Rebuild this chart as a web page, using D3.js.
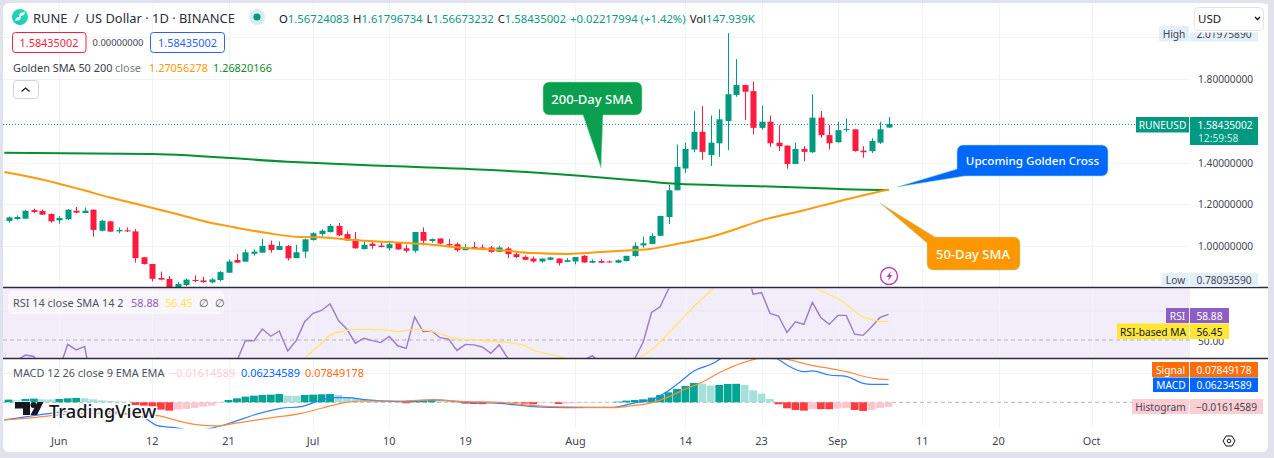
<!DOCTYPE html>
<html><head><meta charset="utf-8">
<style>
html,body{margin:0;padding:0;background:#e0e3eb;overflow:hidden}
svg{display:block}
text{font-family:"Noto Sans",sans-serif;font-size:11px;fill:#131722}
</style>
<script src="https://cdn.jsdelivr.net/npm/d3@7/dist/d3.min.js"></script>
</head><body>
<svg id="c" width="1274" height="458"></svg>
<script>
// ---- data ----
const opens=[1.120,1.129,1.131,1.172,1.168,1.153,1.123,1.128,1.169,1.158,1.174,1.073,1.118,1.070,1.075,1.070,0.946,0.914,0.847,0.842,0.802,0.813,0.837,0.835,0.826,0.837,0.872,0.933,0.925,0.963,0.968,1.006,0.981,1.000,0.942,0.973,1.029,1.057,1.067,1.096,1.057,1.032,0.985,1.011,1.002,0.989,1.016,0.989,0.977,1.067,1.024,1.036,1.009,1.009,0.980,0.995,0.993,0.993,0.972,0.988,0.961,0.948,0.940,0.926,0.934,0.940,0.924,0.926,0.953,0.920,0.928,0.926,0.920,0.928,0.952,1.003,1.010,1.049,1.139,1.267,1.371,1.462,1.547,1.436,1.492,1.599,1.723,1.771,1.742,1.566,1.595,1.495,1.481,1.393,1.465,1.449,1.615,1.531,1.497,1.556,1.559,1.457,1.454,1.495,1.56724];
const highs=[1.141,1.147,1.172,1.179,1.174,1.156,1.144,1.177,1.187,1.185,1.174,1.126,1.121,1.089,1.089,1.081,0.946,0.914,0.877,0.856,0.829,0.845,0.859,0.853,0.846,0.880,0.936,0.962,0.984,0.984,1.035,1.026,1.022,1.005,1.005,1.035,1.065,1.080,1.105,1.110,1.070,1.067,1.025,1.024,1.016,1.019,1.019,1.006,1.067,1.089,1.036,1.036,1.033,1.017,1.009,1.019,1.008,1.000,1.001,0.995,0.968,0.955,0.950,0.940,0.948,0.940,0.942,0.947,0.956,0.936,0.936,0.929,0.936,0.953,1.017,1.045,1.061,1.145,1.292,1.486,1.495,1.646,1.670,1.625,1.655,2.01975890,1.895,1.771,1.788,1.673,1.625,1.579,1.481,1.495,1.478,1.727,1.646,1.579,1.595,1.611,1.559,1.478,1.516,1.595,1.61796734];
const lows=[1.112,1.126,1.131,1.157,1.150,1.112,1.107,1.124,1.157,1.157,1.045,1.070,1.067,1.061,1.067,0.920,0.911,0.831,0.835,0.78093590,0.789,0.808,0.827,0.824,0.821,0.829,0.872,0.920,0.925,0.954,0.968,0.968,0.981,0.930,0.942,0.942,1.026,1.045,1.064,1.048,1.024,0.987,0.984,0.987,0.994,0.978,0.981,0.968,0.968,1.003,1.016,1.009,0.993,0.972,0.980,0.985,0.980,0.968,0.972,0.942,0.942,0.932,0.920,0.920,0.932,0.907,0.923,0.912,0.920,0.918,0.918,0.920,0.918,0.926,0.948,0.992,1.010,1.048,1.105,1.267,1.350,1.449,1.414,1.383,1.427,1.459,1.715,1.603,1.535,1.558,1.475,1.455,1.371,1.393,1.406,1.446,1.518,1.462,1.495,1.547,1.452,1.423,1.446,1.489,1.56673232];
const closes=[1.137,1.139,1.169,1.163,1.150,1.118,1.134,1.174,1.160,1.169,1.077,1.121,1.069,1.077,1.070,0.942,0.914,0.843,0.839,0.802,0.819,0.839,0.832,0.827,0.840,0.875,0.926,0.920,0.970,0.973,1.000,0.981,1.000,0.941,0.970,1.032,1.061,1.073,1.096,1.051,1.027,0.989,1.005,1.000,0.995,1.009,0.984,0.977,1.067,1.025,1.033,1.012,1.003,0.980,0.993,0.990,0.987,0.972,0.993,0.961,0.947,0.934,0.926,0.940,0.945,0.918,0.932,0.947,0.921,0.928,0.920,0.923,0.932,0.953,1.001,1.013,1.048,1.144,1.267,1.379,1.465,1.547,1.451,1.495,1.607,1.727,1.771,1.739,1.566,1.595,1.492,1.478,1.393,1.465,1.451,1.615,1.531,1.492,1.555,1.561,1.455,1.449,1.503,1.559,1.58435002];

const sma200Idx=[-0.5,17,33,45,57,67.5,75,79,86.5,94.4,98.3,104];
const sma200=[1.447,1.441,1.404,1.383,1.364,1.337,1.311,1.298,1.289,1.279,1.273,1.26820166];
const sma50Idx=[-0.5,3.8,8.8,12,15.5,19.4,23.5,26.5,30.6,34.5,36.8,40.7,45,49,54,58,62,66,70,74,75.8,79.4,82.5,85.3,89.2,93.9,98.3,104];
const sma50=[1.354,1.320,1.268,1.232,1.198,1.158,1.115,1.091,1.062,1.043,1.042,1.029,1.019,1.010,0.990,0.981,0.966,0.962,0.971,0.981,0.986,1.013,1.038,1.072,1.125,1.170,1.216,1.27056278];

const rsi=[42,43,44.8,44.3,40,36,40,48.5,46.6,47.8,32,37,33,33,33,24,22,19,19,17,21,25,24,24,26,31,37,42.8,49.8,49.7,53.8,51.3,53.1,46.2,49.8,56.3,59.2,60.2,62.5,56.7,53.7,48.9,50.6,49.8,49.1,51.2,48.0,47.1,58.0,52.9,53.1,50.8,50.3,46.4,48.5,48.3,47.6,45.4,48.3,43.7,40,38,37,38,39,37,39,41,43.1,44.6,42,41,41.5,42.5,43.5,49.2,59.5,61.5,67.6,72,74,76,70,71,74,78,80,77,65.8,66.4,59.2,58.3,52.6,56.3,55.4,63,57.8,55.4,58.5,58.5,52,51.6,54.6,57.8,58.88];
const rsiMaIdx=[35,37,38,39.3,41,42.4,44.4,46.2,47.8,49.8,51.4,53.3,55.3,58,60.8,62,65.6,68,71,74.4,76.2,77.8,80.2,83.3,89,95.5,98.3,101,102,103,104];
const rsiMa=[43.9,48.9,51.7,52.9,53.7,53.7,53.5,52.9,53.7,53.2,51.7,50.3,50,49.4,48.3,46.6,43.9,41,40,43.7,47.1,51.7,59.2,67.8,80,67.8,63.8,58,57.1,56.5,56.45];

const hist=[.0093,.0069,.0116,.0127,.0104,.0098,.0116,.0139,.0150,.0139,.0104,.0069,.0046,.0023,.0012,-.0093,-.0116,-.0139,-.0255,-.0289,-.0255,-.0231,-.0197,-.0150,-.0116,-.0023,.0081,.0139,.0197,.0231,.0255,.0266,.0289,.0231,.0220,.0255,.0266,.0278,.0289,.0255,.0185,.0139,.0116,.0093,.0069,.0058,.0035,-.0035,.0058,.0069,.0081,.0035,.0023,.0012,-.0046,-.0058,-.0064,-.0035,-.0023,-.0012,-.0017,-.0046,-.0069,-.0023,-.0012,-.0058,-.0046,-.0035,-.0023,-.0017,-.0012,-.0006,.0023,.0058,.0081,.0104,.0162,.0255,.0347,.0463,.0567,.0671,.0648,.0579,.0602,.0636,.0642,.0602,.0417,.0301,.0116,-.0069,-.0208,-.0266,-.0289,-.0231,-.0237,-.0238,-.0220,-.0197,-.0266,-.0301,-.0266,-.0197,-.01614589];
const macdIdx=[-0.5,5,9,12,15.8,17.6,19.6,22,24.3,26.7,29,32.2,34.6,37,38.5,40,42.4,46.4,50.2,54.1,58,62,66,71.5,73.8,76.2,77.8,79.4,81,83.3,84.1,86,88,90,90.8,92,94,95,97,99,101,102,104];
const macdLine=[-.0613,-.0382,-.0260,-.0320,-.0497,-.0810,-.0879,-.0980,-.0879,-.0671,-.0440,-.0208,-.0150,.0081,.0162,.0162,.0081,.0023,.0081,0,-.0035,-.0150,-.0185,-.0174,-.0035,.0116,.0370,.0717,.1088,.1354,.1504,.1700,.1750,.1650,.1527,.1296,.1064,.1088,.0949,.0902,.0659,.0625,.06234589];
const signalIdx=[-0.5,3,5,9,12,15,17.6,19.6,22,24.7,26.7,30.6,34.6,37,39.3,41.7,46.4,50.2,54.1,58,62,66,71.5,73.8,76.2,77.8,80.2,81.7,84.1,86.9,89,91.6,94.4,99,102.2,104];
const signalLine=[-.0613,-.0532,-.0463,-.0382,-.0382,-.0440,-.0463,-.0613,-.0764,-.0821,-.0729,-.0555,-.0382,-.0208,-.0035,.0046,.0046,.0081,.0023,0,-.0116,-.0162,-.0185,-.0116,0,.0162,.0486,.0659,.1041,.1388,.1527,.1504,.1319,.1064,.0833,.07849178];

const priceTicks=[1.0,1.2,1.4,1.6,1.8,2.0];
const priceLabels=["1.00000000","1.20000000","1.40000000","1.80000000"];
const priceLabelVals=[1.0,1.2,1.4,1.8];
const timeIdx=[6,17,26,36,45,54,67,80,89,98,108,117,128];
const timeLabels=["Jun","12","21","Jul","10","19","Aug","14","23","Sep","11","20","Oct"];

// ---- scales ----
const PW=1190;
const x=d3.scaleLinear().domain([0,104]).range([8.5,888.5]);
const yP=d3.scaleLinear().domain([1.0,1.8]).range([246,79]);
const yR=d3.scaleLinear().domain([50,58.88]).range([340,314.3]);
const yM=d3.scaleLinear().domain([0,0.1]).range([402.3,373.5]);

const svg=d3.select("#c");
const defs=svg.append("defs");
[["clipP",4,288],["clipR",288.5,358],["clipM",359,428.5]].forEach(([id,a,b])=>{
  defs.append("clipPath").attr("id",id).append("rect").attr("x",3).attr("y",a).attr("width",PW-3).attr("height",b-a);
});
const lg=defs.append("linearGradient").attr("id","rg").attr("x1",0).attr("y1",1).attr("x2",1).attr("y2",0);
lg.append("stop").attr("offset",0).attr("stop-color","#0bc5c5");
lg.append("stop").attr("offset",1).attr("stop-color","#33e0a0");

// frame
svg.append("path").attr("fill","#fff")
  .attr("d","M9,3H1262a6,6 0 0 1 6,6V446a6,6 0 0 1 -6,6H9a6,6 0 0 1 -6,-6V9a6,6 0 0 1 6,-6Z");

// RSI pane background
svg.append("rect").attr("x",3).attr("y",288).attr("width",PW-3).attr("height",70).attr("fill","#f3ecf9");

// vertical grid
const grid=svg.append("g").attr("stroke","#f0f3fa").attr("stroke-width",1);
grid.selectAll("line").data(timeIdx).join("line")
  .attr("x1",d=>Math.round(x(d))+.5).attr("x2",d=>Math.round(x(d))+.5).attr("y1",3).attr("y2",428);
// horizontal grid
grid.append("g").selectAll("line").data(priceTicks).join("line")
  .attr("x1",3).attr("x2",PW).attr("y1",d=>Math.round(yP(d))+.5).attr("y2",d=>Math.round(yP(d))+.5);
svg.append("line").attr("x1",3).attr("x2",PW).attr("y1",yR(60)).attr("y2",yR(60)).attr("stroke","#ece6f3");
svg.append("line").attr("x1",3).attr("x2",PW).attr("y1",yM(.1)).attr("y2",yM(.1)).attr("stroke","#f0f3fa");
// dashed levels
svg.append("line").attr("x1",3).attr("x2",PW).attr("y1",yR(50)).attr("y2",yR(50)).attr("stroke","#b5b3bb").attr("stroke-dasharray","4 3");
svg.append("line").attr("x1",3).attr("x2",PW).attr("y1",yM(0)).attr("y2",yM(0)).attr("stroke","#b2b5be").attr("stroke-dasharray","4 3");

// price line
svg.append("line").attr("x1",3).attr("x2",1136).attr("y1",yP(closes[104])+.5).attr("y2",yP(closes[104])+.5)
  .attr("stroke","#089981").attr("stroke-dasharray","1 2");

// candles
const GREEN="#009a82",RED="#ff1a3f";
const idx=d3.range(opens.length);
const cg=svg.append("g").attr("clip-path","url(#clipP)");
cg.selectAll("line").data(idx).join("line")
  .attr("x1",i=>Math.round(x(i))+.5).attr("x2",i=>Math.round(x(i))+.5)
  .attr("y1",i=>yP(highs[i])).attr("y2",i=>yP(lows[i]))
  .attr("stroke",i=>closes[i]>=opens[i]?GREEN:RED);
cg.selectAll("rect").data(idx).join("rect")
  .attr("x",i=>Math.round(x(i))-2.5).attr("width",6)
  .attr("y",i=>yP(Math.max(opens[i],closes[i])))
  .attr("height",i=>Math.max(1,Math.abs(yP(opens[i])-yP(closes[i]))))
  .attr("fill",i=>closes[i]>=opens[i]?GREEN:RED);

// SMA lines
function path(g,xs,ys,sy,col,w,curve){
  const l=d3.line().x((d,i)=>x(xs[i])).y((d,i)=>sy(d)).curve(curve||d3.curveMonotoneX);
  g.append("path").attr("d",l(ys)).attr("fill","none").attr("stroke",col).attr("stroke-width",w);
}
const sg=svg.append("g").attr("clip-path","url(#clipP)");
path(sg,sma200Idx,sma200,yP,"#079030",2);
path(sg,sma50Idx,sma50,yP,"#ff9a0a",2);

// RSI
const rg=svg.append("g").attr("clip-path","url(#clipR)");
path(rg,idx,rsi,yR,"#9b7ad2",1.4,d3.curveLinear);
path(rg,rsiMaIdx,rsiMa,yR,"#ffe76b",1.3);

// MACD histogram
const mg=svg.append("g").attr("clip-path","url(#clipM)");
mg.selectAll("rect").data(idx).join("rect")
  .attr("x",i=>x(i)-3.9).attr("width",7.8)
  .attr("y",i=>Math.min(yM(hist[i]),yM(0)))
  .attr("height",i=>Math.abs(yM(hist[i])-yM(0)))
  .attr("fill",i=>{
    const p=i?hist[i-1]:0,v=hist[i];
    return v>=0?(v>=p?"#00a693":"#a5e0da"):(v<p?"#ff3b40":"#ffc6cd");
  });
path(mg,macdIdx,macdLine,yM,"#2f7dff",1.2);
path(mg,signalIdx,signalLine,yM,"#ff8a3d",1.2);

// pane separators
svg.append("g").attr("stroke","#2a2e39").attr("stroke-width",1.4).selectAll("line").data([287.5,358.5]).join("line")
  .attr("x1",3).attr("x2",1268).attr("y1",d=>d).attr("y2",d=>d);

// text helper
function T(px,py,s,o={}){
  return svg.append("text").attr("x",px).attr("y",py).attr("dominant-baseline","central")
    .attr("text-anchor",o.a||"start").style("font-size",(o.s||10.9)+"px").style("fill",o.c||"#131722")
    .style("font-weight",o.w||400).text(s);
}

// time axis
timeIdx.forEach((d,i)=>T(x(d),440,timeLabels[i],{a:"middle",c:"#3f434f"}));

// axis tick labels
priceLabelVals.forEach((v,i)=>T(1198,yP(v),priceLabels[i],{c:"#434651",s:10.2}));
T(1198,341,"50.00",{c:"#434651",s:10.2});
T(1198,402.5,"0.00000000",{c:"#434651",s:10.2});

// axis labels
function lab(x0,x1,y0,y1,fill,s,col,o={}){
  svg.append("rect").attr("x",x0).attr("y",y0).attr("width",x1-x0).attr("height",y1-y0).attr("fill",fill);
  T((x0+x1)/2,(y0+y1)/2+.3,s,{a:"middle",c:col,s:10.2,...o});
}
lab(1159,1189,26,41.5,"#e3effb","High","#434651");
lab(1190,1258,26,41.5,"#e3effb","2.01975890","#434651");
lab(1162,1189,273,287,"#e3effb","Low","#434651");
lab(1190,1258,273,287,"#e3effb","0.78093590","#434651");
lab(1136,1189,117,132.5,"#009a82","RUNEUSD","#fff");
svg.append("rect").attr("x",1190).attr("y",117).attr("width",68).attr("height",28).attr("fill","#009a82");
T(1225,124.5,"1.58435002",{a:"middle",c:"#fff",s:10.2});
T(1198,137.5,"12:59:58",{c:"#cdeee8",s:10.2});
lab(1166,1189,308,323,"#8e5ec4","RSI","#fff");
lab(1190,1229,308,323,"#8e5ec4","58.88","#fff");
lab(1117,1189,323.5,339,"#ffe734","RSI-based MA","#131722");
lab(1190,1229,323.5,339,"#ffe734","56.45","#131722");
lab(1152,1189,362,377,"#ff6d0a","Signal","#fff");
lab(1190,1258,362,377,"#ff6d0a","0.07849178","#fff");
lab(1153,1189,377.5,392,"#0066ff","MACD","#fff");
lab(1190,1258,377.5,392,"#0066ff","0.06234589","#fff");
lab(1132,1189,399,414,"#ffcdd4","Histogram","#434651");
lab(1190,1263,399,414,"#ffcdd4","−0.01614589","#434651");

// select with its white wrapper
svg.append("rect").attr("x",1190).attr("y",4).attr("width",78).attr("height",28.5).attr("fill","#fff");
svg.append("rect").attr("x",1194.5).attr("y",7.5).attr("width",69).attr("height",23).attr("rx",4).attr("fill","#fff").attr("stroke","#e0e3eb");
T(1198,18.5,"USD",{c:"#131722",s:11.5});
svg.append("path").attr("d","M1255,17l2.5,2.5l2.5,-2.5").attr("fill","none").attr("stroke","#131722").attr("stroke-width",1.4);

// settings hexagon
svg.append("path").attr("d","M1223,441l3,-5h6l3,5l-3,5h-6Z").attr("fill","none").attr("stroke","#131722");
svg.append("circle").attr("cx",1229).attr("cy",441).attr("r",1.8).attr("fill","none").attr("stroke","#131722");

// header
svg.append("circle").attr("cx",20).attr("cy",17).attr("r",8).attr("fill","url(#rg)");
svg.append("path").attr("d","M15,21l5,-1l1,-4l3,-1l1,-3l-5,1l-1,4l-3,1Z").attr("fill","#fff");
T(33,17.5,"RUNE  /  US Dollar · 1D · BINANCE",{s:12.9,c:"#2a2e39"}).style("white-space","pre");
svg.append("circle").attr("cx",257).attr("cy",17).attr("r",8).attr("fill","#d5efeb");
svg.append("circle").attr("cx",257).attr("cy",17).attr("r",3.6).attr("fill","#089981");
const ohlc=svg.append("text").attr("x",279).attr("y",17.5).attr("dominant-baseline","central").style("font-size","11.3px");
[["O","1.56724083"],["H","1.61796734"],["L","1.56673232"],["C","1.58435002"]].forEach(([a,b],i)=>{
  ohlc.append("tspan").text(a).style("fill","#131722").attr("dx",i?4:0);
  ohlc.append("tspan").text(b).style("fill","#089981");
});
ohlc.append("tspan").text("+0.02217994 (+1.42%)").style("fill","#089981").attr("dx",4);
ohlc.append("tspan").text("Vol").style("fill","#131722").attr("dx",4);
ohlc.append("tspan").text("147.939K").style("fill","#089981");

svg.append("rect").attr("x",12.5).attr("y",32.5).attr("width",73.5).attr("height",20).attr("rx",3).attr("fill","#fff").attr("stroke","#ff1a3f");
T(49,42.8,"1.58435002",{a:"middle",c:"#ff1a3f"});
T(118,42.8,"0.00000000",{a:"middle",s:9.4,c:"#434651"});
svg.append("rect").attr("x",150.5).attr("y",32.5).attr("width",74).attr("height",20).attr("rx",3).attr("fill","#fff").attr("stroke","#2962ff");
T(187.5,42.8,"1.58435002",{a:"middle",c:"#2962ff"});

T(13,67.5,"Golden SMA 50 200",{c:"#3a3e4a"});
T(115,67.5,"close",{c:"#787b86"});
T(149,67.5,"1.27056278",{c:"#ff9800"});
T(213,67.5,"1.26820166",{c:"#148a2b"});
svg.append("rect").attr("x",13.5).attr("y",80.5).attr("width",25).attr("height",18).attr("rx",3).attr("fill","#fff").attr("stroke","#d1d4dc");
svg.append("path").attr("d","M21.5,91.5l4,-3.5l4,3.5").attr("fill","none").attr("stroke","#131722").attr("stroke-width",1.3);

// indicator legends
svg.append("rect").attr("x",8).attr("y",291).attr("width",216).attr("height",23).attr("rx",3).attr("fill","#fff").attr("opacity",.5);
T(13,302,"RSI 14 close SMA 14 2",{c:"#50535e"});
T(131,302,"58.88",{c:"#8e5ec4"});
T(165,302,"56.45",{c:"#fde74c"});
T(199,302,"∅",{c:"#50535e"});
T(215,302,"∅",{c:"#50535e"});
T(13,372.5,"MACD 12 26 close 9 EMA EMA",{c:"#50535e"});
T(170,372.5,"−0.01614589",{c:"#ffcdd4"});
T(241,372.5,"0.06234589",{c:"#0066ff"});
T(305,372.5,"0.07849178",{c:"#ff6d0a"});

// callouts
function callout(d,fill,cx,cy,s,fs,fw){
  svg.append("path").attr("d",d).attr("fill",fill).attr("stroke","#9adfb6").attr("stroke-width",.6);
  T(cx,cy,s,{a:"middle",c:"#fff",s:fs,w:fw});
}
callout("M549,82H636a6,6 0 0 1 6,6V109a6,6 0 0 1 -6,6H603L601,168L583,115H549a6,6 0 0 1 -6,-6V88a6,6 0 0 1 6,-6Z","#0a9f4f",592,98.5,"200-Day SMA",13,500);
callout("M963,145H1102a6,6 0 0 1 6,6V170a6,6 0 0 1 -6,6H965L897,187L957,169V151a6,6 0 0 1 6,-6Z","#0068ff",1032.5,160.5,"Upcoming Golden Cross",11.6,500);
callout("M935,237H1014a6,6 0 0 1 6,6V264a6,6 0 0 1 -6,6H933a6,6 0 0 1 -6,-6V243L880,203Z","#ff9800",973,254,"50-Day SMA",13,500);

// lightning
svg.append("circle").attr("cx",889).attr("cy",276).attr("r",8.5).attr("fill","#fff").attr("stroke","#b83fc0").attr("stroke-width",1.4);
svg.append("path").attr("d","M891,271l-4.5,6h2.6l-1.2,4l4.5,-6h-2.6Z").attr("fill","#b83fc0");

// TradingView logo
const lo=svg.append("g");
lo.append("path").attr("d","M15,402H30V415H23V408.5H15Z").attr("fill","#131722").attr("stroke","#fff").attr("stroke-width",1.5).attr("paint-order","stroke");
lo.append("circle").attr("cx",33.5).attr("cy",405).attr("r",3).attr("fill","#131722");
lo.append("path").attr("d","M37.5,402H43.5L37,415H30.5Z").attr("fill","#131722");
T(49,410,"TradingView",{s:18.3,c:"#131722",w:500}).style("stroke","#fff").style("stroke-width",2.5).style("paint-order","stroke");
</script>
</body></html>
